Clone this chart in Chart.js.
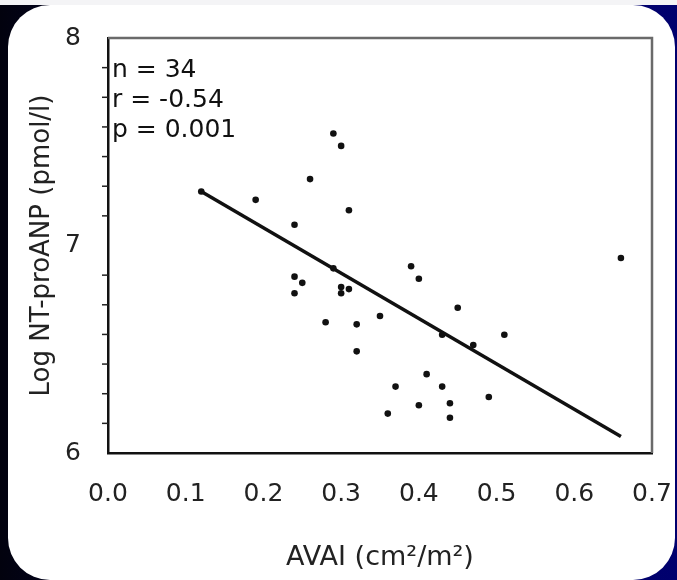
<!DOCTYPE html>
<html>
<head>
<meta charset="utf-8">
<script src="https://cdn.jsdelivr.net/npm/chart.js@4.4.1/dist/chart.umd.min.js"></script>
<style>
  html, body { margin: 0; padding: 0; }
  body {
    width: 677px; height: 580px; overflow: hidden; position: relative;
    background: linear-gradient(90deg, #02020e 0%, #050560 50%, #00006e 100%);
  }
  .strip { position: absolute; left: 0; top: 0; width: 677px; height: 5px; background: #f4f4f6; }
  .panel {
    position: absolute; left: 8px; top: 5px; width: 667px; height: 575px;
    background: #fff; border-radius: 42px;
  }
  .wrap { position: absolute; left: 0; top: 0; width: 677px; height: 580px; }
</style>
</head>
<body>
<div class="strip"></div>
<div class="panel"></div>
<div class="wrap"><canvas id="chart" width="677" height="580"></canvas></div>
<script>
// AVAI (cm2/m2) vs log NT-proANP
const avai = [0.12, 0.19, 0.24, 0.26, 0.29, 0.30, 0.31, 0.29, 0.24, 0.25, 0.24,
              0.30, 0.30, 0.31, 0.28, 0.32, 0.35, 0.32, 0.39, 0.40, 0.45, 0.43,
              0.47, 0.51, 0.41, 0.37, 0.43, 0.40, 0.44, 0.44, 0.36, 0.49, 0.66];
const logNtProAnp = [7.26, 7.22, 7.10, 7.32, 7.54, 7.48, 7.17, 6.89, 6.85, 6.82, 6.77,
                     6.80, 6.77, 6.79, 6.63, 6.62, 6.66, 6.49, 6.90, 6.84, 6.70, 6.57,
                     6.52, 6.57, 6.38, 6.32, 6.32, 6.23, 6.24, 6.17, 6.19, 6.27, 6.94];
const fitX = [0.12, 0.66];
const fitY = [7.26, 6.08];
const statsLines = ['n = 34', 'r = -0.54', 'p = 0.001'];
const xTicks = [0, 0.1, 0.2, 0.3, 0.4, 0.5, 0.6, 0.7];
const yMajor = [6, 7, 8];
const yMinorPerUnit = 7;

const FONT = 'DejaVu Sans, sans-serif';

const boxPlugin = {
  id: 'box',
  afterDraw(chart) {
    const { ctx, chartArea: a, scales } = chart;
    ctx.save();
    // top + right frame (grey)
    ctx.strokeStyle = '#6a6a6a';
    ctx.lineWidth = 2.5;
    ctx.beginPath();
    ctx.moveTo(a.left, a.top);
    ctx.lineTo(a.right, a.top);
    ctx.lineTo(a.right, a.bottom);
    ctx.stroke();
    // minor ticks on y
    ctx.strokeStyle = '#222';
    ctx.lineWidth = 1.5;
    const y = scales.y;
    for (let u = 6; u < 8; u++) {
      for (let k = 1; k < yMinorPerUnit; k++) {
        const py = y.getPixelForValue(u + k / yMinorPerUnit);
        ctx.beginPath();
        ctx.moveTo(a.left - 6, py);
        ctx.lineTo(a.left, py);
        ctx.stroke();
      }
    }
    // stats text
    ctx.fillStyle = '#111';
    ctx.font = '25px ' + FONT;
    ctx.textBaseline = 'middle';
    ctx.textAlign = 'left';
    statsLines.forEach((s, i) => {
      ctx.fillText(s, a.left + 4, a.top + 32 + i * 30);
    });
    ctx.restore();
  }
};

new Chart(document.getElementById('chart'), {
  type: 'scatter',
  data: {
    datasets: [
      {
        type: 'line',
        data: fitX.map((x, i) => ({ x, y: fitY[i] })),
        borderColor: '#111',
        borderWidth: 3.5,
        pointRadius: 0,
        fill: false,
        order: 2
      },
      {
        data: avai.map((x, i) => ({ x, y: logNtProAnp[i] })),
        backgroundColor: '#111',
        borderColor: '#111',
        pointRadius: 3.3,
        pointBorderWidth: 0,
        order: 1
      }
    ]
  },
  options: {
    responsive: false,
    animation: false,
    devicePixelRatio: 1,
    layout: { padding: { top: 38, right: 25, left: 0, bottom: 0 } },
    plugins: { legend: { display: false }, tooltip: { enabled: false } },
    scales: {
      x: {
        type: 'linear',
        min: 0, max: 0.7,
        afterBuildTicks(scale) { scale.ticks = xTicks.map(v => ({ value: v })); },
        afterFit(scale) { scale.height = 127; scale.paddingRight = 0; scale.paddingLeft = 0; },
        grid: { display: false, drawOnChartArea: false, drawTicks: true, tickLength: 9, tickColor: '#222', tickWidth: 1.5 },
        border: { display: true, color: '#111', width: 2.5 },
        ticks: {
          color: '#222', font: { family: FONT, size: 25 }, padding: 17,
          maxRotation: 0, autoSkip: false,
          callback: v => v.toFixed(1)
        },
        title: {
          display: true, text: 'AVAI (cm²/m²)', color: '#222',
          font: { family: FONT, size: 27 }, padding: { top: 0, bottom: 6 }
        }
      },
      y: {
        type: 'linear',
        min: 6, max: 8,
        afterBuildTicks(scale) { scale.ticks = yMajor.map(v => ({ value: v })); },
        afterFit(scale) { scale.width = 108; },
        grid: { display: false, drawOnChartArea: false, drawTicks: true, tickLength: 13, tickColor: '#222', tickWidth: 1.5 },
        border: { display: true, color: '#111', width: 2.5 },
        ticks: {
          color: '#222', font: { family: FONT, size: 25 }, padding: 14,
          callback: v => String(v)
        },
        title: {
          display: true, text: 'Log NT-proANP (pmol/l)', color: '#222',
          font: { family: FONT, size: 26 }, padding: { top: 27, bottom: 0 }
        }
      }
    }
  },
  plugins: [boxPlugin]
});
</script>
</body>
</html>
